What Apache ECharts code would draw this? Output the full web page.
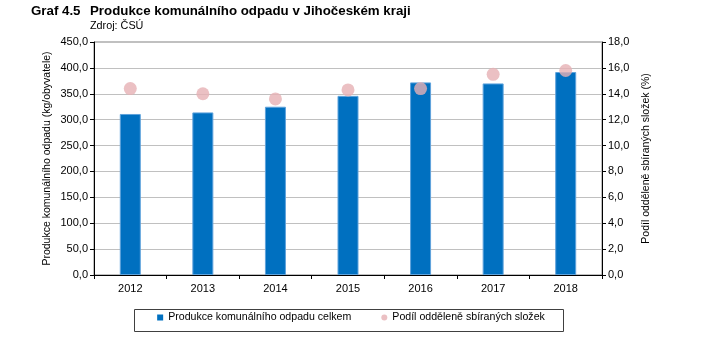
<!DOCTYPE html>
<html><head><meta charset="utf-8">
<script src="https://cdn.jsdelivr.net/npm/echarts@6/dist/echarts.min.js"></script>
<style>html,body{margin:0;padding:0;background:#fff}#c{width:702px;height:342px}</style>
</head><body><div id="c"></div>
<script>
var years = ['2012','2013','2014','2015','2016','2017','2018'];
var production = [311, 314, 325, 346, 372, 370, 392];
var separatedShare = [14.4, 14.0, 13.6, 14.3, 14.4, 15.5, 15.8];
var seriesNames = ['Produkce komunálního odpadu celkem', 'Podíl odděleně sbíraných složek'];

var fmt = function (v) { return v.toFixed(1).replace('.', ','); };
var font = 'Liberation Sans, Arial, sans-serif';
var chart = echarts.init(document.getElementById('c'));
chart.setOption({
  animation: false,
  textStyle: { fontFamily: font },
  title: [
    { text: 'Graf 4.5', left: 31, top: 5, padding: 0, textStyle: { fontSize: 13.3, fontWeight: 'bold', color: '#000', fontFamily: font } },
    { text: 'Produkce komunálního odpadu v Jihočeském kraji', left: 90, top: 5, padding: 0, textStyle: { fontSize: 13.3, fontWeight: 'bold', color: '#000', fontFamily: font } },
    { text: 'Zdroj: ČSÚ', left: 90, top: 21, padding: 0, textStyle: { fontSize: 10.8, fontWeight: 'normal', color: '#000', fontFamily: font } }
  ],
  graphic: [{ type: 'rect', left: 132, top: 307, shape: { width: 429, height: 22 }, style: { fill: 'none', stroke: '#404040', lineWidth: 1 } }],
  legend: {
    top: 312, left: 'center', itemGap: 30, itemWidth: 6, itemHeight: 6, padding: 0,
    itemStyle: { borderWidth: 0 },
    textStyle: { fontSize: 10.6, color: '#000', fontFamily: font },
    data: [{ name: seriesNames[0], icon: 'rect' }, { name: seriesNames[1], icon: 'circle' }]
  },
  grid: { left: 94, right: 100, top: 42, bottom: 67, show: true, borderColor: '#808080', borderWidth: 1 },
  xAxis: {
    type: 'category', data: years,
    axisLine: { lineStyle: { color: '#000' } },
    axisTick: { show: true, length: 4, lineStyle: { color: '#000' } },
    axisLabel: { color: '#000', fontSize: 11, margin: 8 }
  },
  yAxis: [
    { type: 'value', min: 0, max: 450, interval: 50,
      name: 'Produkce komunálního odpadu (kg/obyvatele)', nameLocation: 'middle', nameGap: 41, nameRotate: 90,
      nameMoveOverlap: false,
      nameTextStyle: { fontSize: 10.5, color: '#000' },
      axisLine: { show: true, lineStyle: { color: '#000' } },
      axisTick: { show: true, length: 4, lineStyle: { color: '#000' } },
      axisLabel: { color: '#000', fontSize: 11, margin: 6, formatter: fmt },
      splitLine: { show: true, lineStyle: { color: '#c0c0c0' } } },
    { type: 'value', min: 0, max: 18, interval: 2, position: 'right',
      name: 'Podíl odděleně sbíraných složek (%)', nameLocation: 'middle', nameGap: 39, nameRotate: 90,
      nameMoveOverlap: false,
      nameTextStyle: { fontSize: 10.5, color: '#000' },
      axisLine: { show: true, lineStyle: { color: '#000' } },
      axisTick: { show: true, length: 4, lineStyle: { color: '#000' } },
      axisLabel: { color: '#000', fontSize: 11, margin: 6, formatter: fmt },
      splitLine: { show: false } }
  ],
  series: [
    { name: seriesNames[0], type: 'bar', data: production, barWidth: 21, yAxisIndex: 0,
      itemStyle: { color: '#0070C0', borderColor: '#5fa3dc', borderWidth: 1 } },
    { name: seriesNames[1], type: 'scatter', data: separatedShare, yAxisIndex: 1,
      symbol: 'circle', symbolSize: 13, itemStyle: { color: '#E6B0B4' } }
  ]
});
</script></body></html>
